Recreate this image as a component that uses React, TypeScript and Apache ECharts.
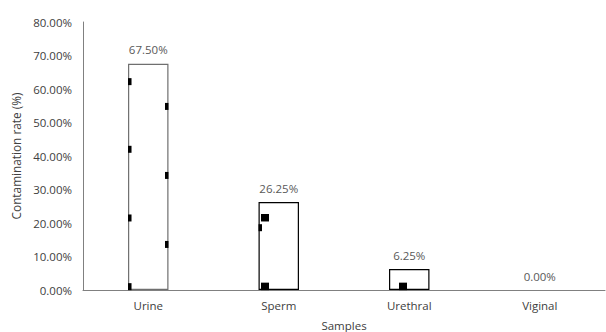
import React, { useEffect, useRef } from "react";
import * as echarts from "echarts";

const categories = ["Urine", "Sperm", "Urethral", "Viginal"];
const rates = [67.5, 26.25, 6.25, 0.0];
const borderColors = ["#6f6f6f", "#000000", "#000000", "#000000"];
const yTicks = { min: 0, max: 80, interval: 10 };

// small black marks seen inside the bars: [categoryIndex, value, kind]
// kind: 0 = thin mark on left edge, 1 = thin mark on right edge, 2 = square near left edge, 3 = square inset
const marks: [number, number, number][] = [
  [0, 62.2, 0],
  [0, 42.0, 0],
  [0, 21.5, 0],
  [0, 1.0, 0],
  [0, 54.8, 1],
  [0, 34.2, 1],
  [0, 13.6, 1],
  [1, 21.5, 2],
  [1, 18.6, 0],
  [1, 1.0, 2],
  [2, 1.0, 3],
];

export default function App() {
  const ref = useRef<HTMLDivElement>(null);
  useEffect(() => {
    if (!ref.current) return;
    const chart = echarts.init(ref.current, null, { renderer: "svg" });
    const font = "'Open Sans', 'Liberation Sans', sans-serif";
    chart.setOption({
      animation: false,
      grid: {
        left: 83,
        right: 1,
        top: 22,
        bottom: 42,
        containLabel: false,
        outerBoundsMode: "none",
      },
      xAxis: {
        type: "category",
        data: categories,
        name: "Samples",
        nameLocation: "middle",
        nameGap: 29,
        nameTextStyle: { color: "#404040", fontSize: 11.5, fontFamily: font },
        axisLine: { lineStyle: { color: "#808080", width: 1 } },
        axisTick: { show: false },
        axisLabel: { color: "#404040", fontSize: 11.5, fontFamily: font, margin: 9 },
      },
      yAxis: {
        type: "value",
        min: yTicks.min,
        max: yTicks.max,
        interval: yTicks.interval,
        name: "Contamination rate (%)",
        nameLocation: "middle",
        nameGap: 58,
        nameTextStyle: { color: "#404040", fontSize: 11.8, fontFamily: font },
        axisLine: { show: true, lineStyle: { color: "#808080", width: 1 } },
        axisTick: { show: false },
        splitLine: { show: false },
        axisLabel: {
          color: "#404040",
          fontSize: 11.5,
          fontFamily: font,
          margin: 11,
          formatter: (v: number) => v.toFixed(2) + "%",
        },
      },
      series: [
        {
          type: "bar",
          barWidth: "31%",
          data: rates.map((v, i) => ({
            value: v,
            itemStyle: {
              color: "#ffffff",
              borderColor: borderColors[i],
              borderWidth: v > 0 ? 1.2 : 0,
            },
          })),
          label: {
            show: true,
            position: "top",
            distance: 8,
            color: "#595959",
            fontSize: 11.5,
            fontFamily: font,
            formatter: (p: any) => Number(p.value).toFixed(2) + "%",
          },
          z: 2,
        },
        {
          type: "custom",
          z: 3,
          data: marks,
          renderItem: (params: any, api: any) => {
            const c = api.value(0);
            const v = api.value(1);
            const kind = api.value(2);
            const pt = api.coord([c, v]);
            const bw = api.size([1, 0])[0] * 0.31;
            const left = pt[0] - bw / 2;
            const right = pt[0] + bw / 2;
            let shape;
            if (kind === 0) shape = { x: left, y: pt[1] - 3.5, width: 3.5, height: 7 };
            else if (kind === 1) shape = { x: right - 3.5, y: pt[1] - 3.5, width: 3.5, height: 7 };
            else if (kind === 2) shape = { x: left + 2.5, y: pt[1] - 4, width: 8, height: 7.5 };
            else shape = { x: left + 10, y: pt[1] - 4, width: 8, height: 7.5 };
            return { type: "rect", shape, style: { fill: "#000000" } };
          },
        },
      ],
    });
    return () => chart.dispose();
  }, []);
  return (
    <div
      ref={ref}
      style={{ position: "fixed", left: 0, top: 0, width: 606, height: 332, background: "#fff" }}
    />
  );
}
